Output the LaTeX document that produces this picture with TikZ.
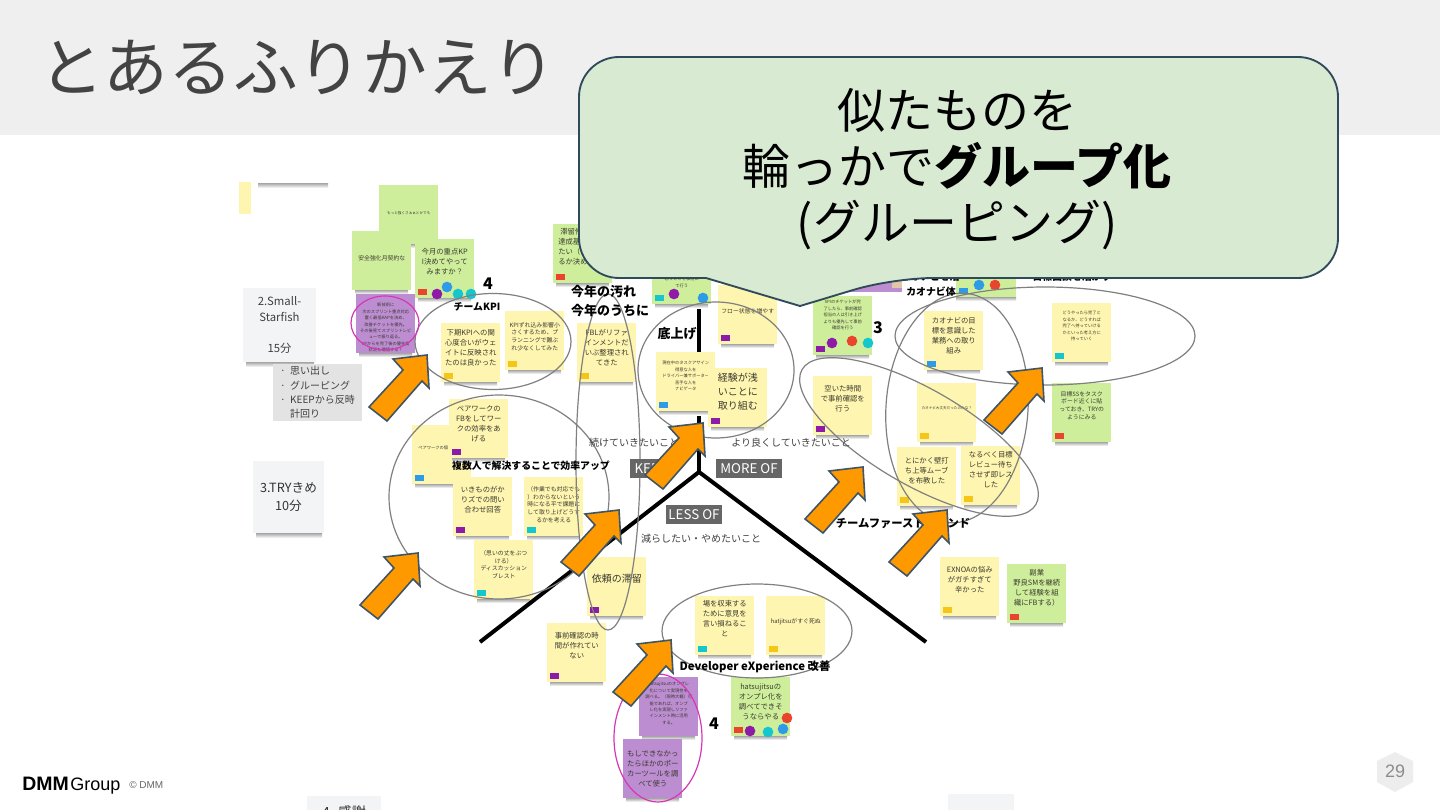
\documentclass[tikz,border=0pt]{standalone}
\usepackage{fontspec}
\setmainfont{Noto Sans CJK JP}
\newfontfamily\logofont{Liberation Sans}
\usetikzlibrary{calc}
\definecolor{headband}{HTML}{EFEFEF}
\definecolor{titleink}{HTML}{434343}
\definecolor{noteink}{HTML}{3A3A30}
\definecolor{noteyellow}{HTML}{FEF5B0}
\definecolor{notegreen}{HTML}{CFEE9C}
\definecolor{notepurple}{HTML}{BC8DD0}
\definecolor{tagred}{HTML}{E8452C}
\definecolor{tagpurple}{HTML}{8E1BA8}
\definecolor{tagblue}{HTML}{2D9BE8}
\definecolor{tagcyan}{HTML}{14C7CF}
\definecolor{tagamber}{HTML}{F5C518}
\definecolor{cardgray}{HTML}{F3F4F6}
\definecolor{listgray}{HTML}{E3E3E3}
\definecolor{ringgray}{HTML}{808080}
\definecolor{ringpink}{HTML}{D637B8}
\definecolor{arroworange}{HTML}{FF9900}
\definecolor{arrowedge}{HTML}{3F5566}
\definecolor{calloutfill}{HTML}{D9EAD3}
\definecolor{calloutedge}{HTML}{2F4A5B}
\tikzset{
  stickynote/.style={minimum width=44.25pt, minimum height=44.25pt, inner sep=0pt, anchor=north west},
  noteshadow/.style={top color=black!35, bottom color=white, draw=none},
  tagmark/.style={minimum width=6.75pt, minimum height=4.5pt, inner sep=0pt, anchor=south west},
  dotmark/.style={circle, minimum size=8pt, inner sep=0pt},
  txtbig/.style={font=\fontsize{7.5}{10.5}\selectfont, align=center, inner sep=0pt, text=noteink},
  txtmid/.style={font=\fontsize{5.5}{7.5}\selectfont, align=center, inner sep=0pt, text=noteink},
  txtsm/.style={font=\fontsize{4.4}{5.8}\selectfont, align=center, inner sep=0pt, text=noteink},
  txtxs/.style={font=\fontsize{3.2}{4.8}\selectfont, align=center, inner sep=0pt, text=noteink},
  txttiny/.style={font=\fontsize{2.7}{4}\selectfont, align=center, inner sep=0pt, text=noteink},
  lblsm/.style={font=\fontsize{7.4}{9}\selectfont\bfseries, inner sep=0pt},
  lblmd/.style={font=\fontsize{8.5}{10}\selectfont\bfseries, inner sep=0pt},
  lbllg/.style={font=\fontsize{9.75}{12}\selectfont\bfseries, inner sep=0pt},
  lblnum/.style={font=\fontsize{12}{14}\selectfont\bfseries, inner sep=0pt},
  lblreg/.style={font=\fontsize{7.5}{9}\selectfont, inner sep=0pt, text=black!75},
  keytag/.style={fill=black!60, text=white, font=\fontsize{10}{11}\selectfont, inner sep=0pt, minimum height=14.5pt},
  groupring/.style={draw=ringgray, line width=0.9pt},
  pinkring/.style={draw=ringpink, line width=0.9pt},
  bigarrow/.style={fill=arroworange, draw=arrowedge, line width=1.2pt, line join=miter},
}
% sticky note: name, x, y, colour, text style, text offset, text
\newcommand{\stickypad}[7]{
  \fill[noteshadow] ({#2+3},{#3+59}) rectangle ({#2+56},{#3+63});
  \node[stickynote, fill=#4] (#1) at (#2,#3) {};
  \node[#5, anchor=north] (t#1) at ([yshift=-#6*0.75pt]#1.north) {#7};
}
\begin{document}
\begin{tikzpicture}[x=0.75pt, y=-0.75pt]
  \useasboundingbox (0,0) rectangle (1440,810);
  \fill[white] (0,0) rectangle (1440,810);
  % header
  \fill[headband] (0,0) rectangle (1440,135);
  \node[titleink, font=\fontsize{48.5}{52}\selectfont, inner sep=0pt] (slidetitle) at (298,67) {とあるふりかえり};

  % scraps and cards on the left
  \fill[noteyellow] (239,182) rectangle (251,214);
  \fill[noteshadow] (258,183) rectangle (328,188);
  \fill[noteshadow] (246,362) rectangle (314,367);
  \node[fill=cardgray, minimum width=54.75pt, minimum height=55.5pt, inner sep=0pt, align=center,
    font=\fontsize{8.5}{11.7}\selectfont, text=black!75] (smallcard) at (279.5,325)
    {2.Small-\\Starfish\\[11.7pt]15分};
  \node[fill=listgray, minimum width=66.75pt, minimum height=42.75pt, inner sep=0pt, align=left,
    font=\fontsize{7.5}{10.7}\selectfont, text=black!75] (steplist) at (317.5,392.5)
    {\makebox[7.5pt][l]{·}思い出し\\\makebox[7.5pt][l]{·}グルーピング\\\makebox[7.5pt][l]{·}KEEPから反時\\\makebox[7.5pt][l]{}計回り};
  \fill[noteshadow] (256,533) rectangle (322,538);
  \node[fill=cardgray, minimum width=53.25pt, minimum height=54pt, inner sep=0pt, align=center,
    font=\fontsize{9.5}{13}\selectfont, text=black!80] (trycard) at (288.5,497)
    {3.TRYきめ\\10分};
  % cards cut off by the slide edge
  \node[fill=cardgray, minimum width=55.5pt, minimum height=15pt, anchor=north west, inner sep=0pt] (thankscard) at (307,796) {};
  \node[font=\fontsize{10.5}{12}\selectfont, inner sep=0pt, text=black!80] (thankstext) at (344,812) {4. 感謝};
  \node[fill=cardgray, minimum width=49.5pt, minimum height=15pt, anchor=north west, inner sep=0pt] (lastcard) at (948,794) {};

  % upright axis
  \coordinate (forkup) at (699,250);
  \coordinate (fork) at (699,472);
  \coordinate (forkleft) at (480,642);
  \coordinate (forkright) at (926,642);
  \draw[black, line width=3pt] (forkup) -- (fork);

  % notes hidden behind the callout
  \fill[noteshadow] (956,297) rectangle (1016,301);
  \fill[notegreen] (956,238) rectangle (1016,297);
  \fill[notepurple] (843,233) rectangle (902,292);
  \fill[brown!45] (892,278) rectangle (902,288);

  % sticky notes
  \stickypad{motto}{379}{185}{notegreen}{txttiny}{26}{もっと強くさぁぁとかでも}
  \stickypad{anzen}{352}{231}{notegreen}{txtsm}{24}{安全強化月契約な}
  \stickypad{juten}{415}{239}{notegreen}{txtmid}{9}{今月の重点KP\\I決めてやって\\みますか？}
  \stickypad{shingi}{356}{294}{notepurple}{txtxs}{9}{新技術に\\次のスプリント重点対応\\置く最低KAPを決め、\\改善チケットを優先。\\その後見てスプリントレビ\\ューで振り返る。\\SPからを完了後の優先度\\状況を確認する！}
  \stickypad{shimo}{441}{323}{noteyellow}{txtmid}{6}{下期KPIへの関\\心度合いがウェ\\イトに反映され\\たのは良かった}
  \stickypad{zure}{505}{311}{noteyellow}{txtsm}{11}{KPIずれ込み影響小\\さくするため、プ\\ランニングで難ぶ\\れ少なくしてみた}
  \stickypad{pairA}{412}{425}{noteyellow}{txtxs}{23}{}
  \node[txtxs, anchor=west] (tpairtext) at (418,448) {ペアワークの個};
  \stickypad{pairB}{449}{399}{noteyellow}{txtmid}{6}{ペアワークの\\FBをしてワー\\クの効率をあ\\げる}
  \stickypad{ikimono}{453}{477}{noteyellow}{txtmid}{9}{いきものがか\\りズでの問い\\合わせ回答}
  \stickypad{sagyo}{524}{477}{noteyellow}{txtsm}{9}{（作業でも対応でも\\）わからないという\\時になる平で課題に\\して取り上げどうす\\るかを考える}
  \stickypad{omoi}{474}{540}{noteyellow}{txtsm}{10}{（思いの丈をぶつ\\ける）\\ディスカッション\\ブレスト}
  \stickypad{irai}{587}{557}{noteyellow}{txtbig}{17}{依頼の滞留}
  \stickypad{jizen}{547}{623}{noteyellow}{txtmid}{9}{事前確認の時\\間が作れてい\\ない}
  \stickypad{taihead}{553}{224}{notegreen}{txtmid}{4}{}
  \stickypad{fbl}{577}{323}{noteyellow}{txtmid}{6}{FBLがリファ\\インメントだ\\いぶ整理され\\てきた}
  \stickypad{omou}{652}{245}{notegreen}{txtxs}{32}{思うことを事前に\\て行う}
  \stickypad{flow}{718}{285}{noteyellow}{txtsm}{23}{フロー状態を増やす}
  \stickypad{task}{656}{352}{noteyellow}{txtxs}{9}{現在中のタスクアサイン\\得意な人を\\ドライバー兼サポーター\\苦手な人を\\ナビゲータ}
  \stickypad{keiken}{708}{368}{noteyellow}{txtbig}{5}{経験が浅\\いことに\\取り組む}
  \stickypad{ticket}{813}{296}{notegreen}{txtxs}{4}{SPIのチケットが完\\了したら、事前確認\\担当の人は引き上げ\\よりも優先して事前\\確認を行う}
  \stickypad{aita}{813}{376}{noteyellow}{txtmid}{9}{空いた時間\\で事前確認を\\行う}
  \stickypad{kaoa}{924}{311}{noteyellow}{txtmid}{6}{カオナビの目\\標を意識した\\業務への取り\\組み}
  \stickypad{kaob}{917}{383}{noteyellow}{txttiny}{23}{カオナビ大丈夫だったのかな？}
  \stickypad{kabe}{897}{447}{noteyellow}{txtmid}{10}{とにかく壁打\\ち上等ムーブ\\を布教した}
  \stickypad{review}{961}{446}{noteyellow}{txtmid}{5}{なるべく目標\\レビュー待ち\\させず即レス\\した}
  \stickypad{yatte}{1052}{303}{noteyellow}{txtxs}{8}{どうやったら完了と\\なるか、どうすれば\\完了へ持っていける\\かといった考え方に\\持っていく}
  \stickypad{goalss}{1052}{383}{notegreen}{txtsm}{8}{目標SSをタスク\\ボード近くに貼\\っておき、TRYの\\ようにみる}
  \stickypad{exnoa}{940}{557}{noteyellow}{txtmid}{9}{EXNOAの悩み\\がガチすぎて\\辛かった}
  \stickypad{fukugyo}{1007}{564}{notegreen}{txtmid}{5}{副業\\野良SMを継続\\して経験を組\\織にFBする）}
  \stickypad{syusoku}{695}{596}{noteyellow}{txtmid}{4}{場を収束する\\ために意見を\\言い損ねるこ\\と}
  \stickypad{shinu}{766}{596}{noteyellow}{txtsm}{22}{hatjitsuがすぐ死ぬ}
  \stickypad{onpre}{731}{677}{notegreen}{txtmid}{6}{hatsujitsuの\\オンプレ化を\\調べてできそ\\うならやる}
  \stickypad{hatsu}{639}{677}{notepurple}{txtxs}{5}{hatsujitsuのオンプレ\\化について実現性を\\調べる。（現時大概）可\\能であれば、オンプ\\レ化を実現しリファ\\インメント時に活用\\する。}
  \stickypad{poker}{623}{739}{notepurple}{txtmid}{11}{もしできなかっ\\たらほかのポー\\カーツールを調\\べて使う}
  \node[txtmid, align=left, anchor=north west] (taitext) at (558,228)
    {\hspace*{1.5pt}滞留件\\達成基\\たい（\\るか決め};

  % slanted axes run over the shadows
  \draw[black, line width=3pt] (forkleft) -- (fork) -- (forkright);

  % colour tags in the note corners
  \foreach \pad/\tint in {
    juten/tagred, shimo/tagamber, zure/tagamber, pairA/tagblue, pairB/tagpurple,
    ikimono/tagpurple, sagyo/tagcyan, omoi/tagcyan, irai/tagpurple, jizen/tagpurple,
    taihead/tagred, fbl/tagamber, omou/tagcyan, flow/tagpurple, task/tagblue,
    keiken/tagpurple, ticket/tagpurple, aita/tagpurple, kaoa/tagblue, kaob/tagamber,
    kabe/tagamber, review/tagamber, yatte/tagcyan, goalss/tagred, exnoa/tagamber,
    fukugyo/tagred, syusoku/tagcyan, shinu/tagamber, onpre/tagred}{
    \node[tagmark, fill=\tint] (tag\pad) at ([xshift=2.25pt, yshift=2.25pt]\pad.south west) {};
  }
  \node[tagmark, fill=tagblue] (tagkaoc) at (959,294) {};

  % voting dots
  \foreach \dotx/\doty/\tint [count=\k] in {
    447/287/tagblue, 437/294/tagpurple, 458/294/tagcyan, 471/294/tagcyan,
    674/294/tagpurple, 703/298/tagblue,
    832/343/tagpurple, 852/341/tagred, 868/343/tagcyan,
    979/285/tagblue, 995/285/tagred,
    750/731/tagpurple, 768/732/tagcyan, 783/729/tagblue, 787/718/tagred}{
    \node[dotmark, fill=\tint] (dot\k) at (\dotx,\doty) {};
  }

  % hand-drawn rings
  \draw[groupring] (493,341.5) ellipse [x radius=78, y radius=48];
  \draw[groupring] (499,497) ellipse [x radius=110, y radius=102];
  \draw[groupring] (608,462) ellipse [x radius=32, y radius=168];
  \draw[groupring] (716,370) ellipse [x radius=78, y radius=68];
  \draw[groupring, rotate around={-30:(919,437)}] (919,437) ellipse [x radius=135, y radius=48];
  \draw[groupring, rotate around={-4:(957,408)}] (957,408) ellipse [x radius=71, y radius=115];
  \draw[groupring] (1045,336) ellipse [x radius=150, y radius=49];
  \draw[groupring] (757,631) ellipse [x radius=95, y radius=47];
  \draw[pinkring] (385,323) ellipse [x radius=34, y radius=27];
  \draw[pinkring] (658,738) ellipse [x radius=44, y radius=64];

  % group titles and axis captions
  \node[lblsm] (kpihead) at (477,307) {チームKPI};
  \node[lblnum] (numkpi) at (488,284) {4};
  \node[lblsm] (effhead) at (531,466) {複数人で解決することで効率アップ};
  \node[lbllg] (dirta) at (603.5,292) {今年の汚れ};
  \node[lbllg] (dirtb) at (610,311) {今年のうちに};
  \node[lbllg] (basehead) at (677,334) {底上げ};
  \node[lblnum] (numtick) at (878,328) {3};
  \node[lblsm] (kaohidden) at (930,277) {カオナビを活};
  \node[lblsm] (kaohead) at (931,292) {カオナビ体};
  \node[lblsm] (goalhead) at (1072,277) {目標面談を活かす};
  \node[lblmd] (firsthead) at (903,523) {チームファーストマインド};
  \node[lblmd] (devhead) at (755,667) {Developer eXperience 改善};
  \node[lblnum] (numdev) at (714,724) {4};
  \node[lblreg] (keepcap) at (634,443) {続けていきたいこと};
  \node[lblreg] (morecap) at (791,443) {より良くしていきたいこと};
  \node[lblreg] (lesscap) at (701,539) {減らしたい・やめたいこと};
  \node[keytag, minimum width=31.5pt] (keepkey) at (651,468.5) {KEEP};
  \node[keytag, minimum width=49.5pt] (morekey) at (749,468.5) {MORE OF};
  \node[keytag, minimum width=42pt] (lesskey) at (694,514.5) {LESS OF};

  % orange block arrows
  \foreach \tipx/\tipy in {427/355, 418/553, 619/510, 703/423, 1042/368, 863/467, 947/510, 671/640}{
    \draw[bigarrow, shift={(\tipx,\tipy)}] (0,0) -- (-34,4) -- (-24,15) -- (-58,52) -- (-40,66) -- (-5,26) -- (2,33) -- cycle;
  }

  % callout
  \draw[fill=calloutfill, draw=calloutedge, line width=1.4pt, rounded corners=30pt]
    (579,167) -- (579,57) -- (1338,57) -- (1338,278) -- (893,278) [sharp corners] -- (800,306)
    -- (706,278) [rounded corners=30pt] -- (579,278) -- cycle;
  \node[font=\fontsize{36}{42}\selectfont, align=center, inner sep=0pt] (calloutnote) at (957,169)
    {似たものを\\輪っかで\textbf{グループ化}\\(グルーピング)};

  % footer
  \node[font=\logofont\fontsize{14.6}{16}\selectfont\bfseries, inner sep=0pt, anchor=base west] (logodmm) at (22,790) {DMM};
  \node[font=\logofont\fontsize{13.5}{16}\selectfont, inner sep=0pt, anchor=base west] (logogroup) at (70,790) {Group};
  \node[font=\logofont\fontsize{7.5}{9}\selectfont, text=black!60, inner sep=0pt, anchor=base west] (logocopy) at (129,788) {© DMM};
  \fill[black!7] (1395,752) -- (1413,761) -- (1413,782) -- (1395,792) -- (1377,782) -- (1377,761) -- cycle;
  \node[font=\logofont\fontsize{13.5}{15}\selectfont, text=black!45, inner sep=0pt] (pagenum) at (1395,771) {29};
\end{tikzpicture}
\end{document}
